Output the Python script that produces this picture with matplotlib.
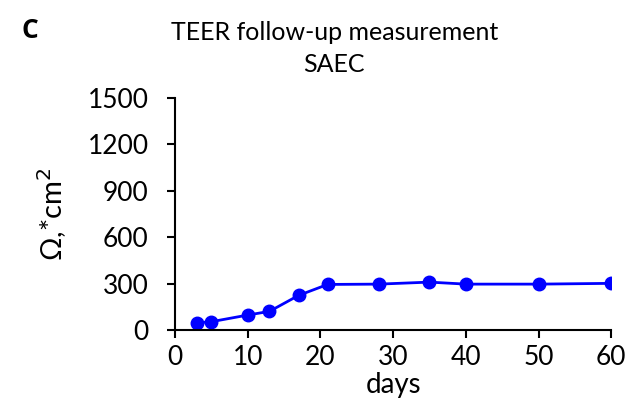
import matplotlib
matplotlib.use("Agg")
import matplotlib.pyplot as plt

plt.rcParams['font.family'] = ['Lato', 'DejaVu Sans']

days = [3, 5, 10, 13, 17, 21, 28, 35, 40, 50, 60]
teer = [47, 54, 97, 121, 224, 295, 297, 310, 297, 297, 302]
x_ticks = [0, 10, 20, 30, 40, 50, 60]
y_ticks = [0, 300, 600, 900, 1200, 1500]

fig = plt.figure(figsize=(6.27, 4.05), dpi=100)
ax = fig.add_axes([0.279, 0.185, 0.696, 0.573])

ax.plot(days, teer, color='#0000ff', linewidth=2, marker='o', markersize=9)

ax.set_xlim(0, 60)
ax.set_ylim(0, 1500)
ax.set_xticks(x_ticks)
ax.set_yticks(y_ticks)
ax.tick_params(labelsize=19, width=1.5, length=6, direction='out')
ax.tick_params(axis='y', pad=13)
ax.tick_params(axis='x', pad=5)
for side in ['top', 'right']:
    ax.spines[side].set_visible(False)
for side in ['left', 'bottom']:
    ax.spines[side].set_linewidth(1.5)

ax.set_xlabel('days', fontsize=20, labelpad=1)
ax.set_ylabel('Ω,*cm$^2$', fontsize=21, labelpad=13)
ax.set_title('TEER follow-up measurement\nSAEC', fontsize=18, pad=19, x=0.365,
             linespacing=1.45)
fig.text(0.035, 0.925, 'C', fontsize=19, fontweight='bold', va='center',
         family='Open Sans')

fig.savefig('out.png', dpi=100)
